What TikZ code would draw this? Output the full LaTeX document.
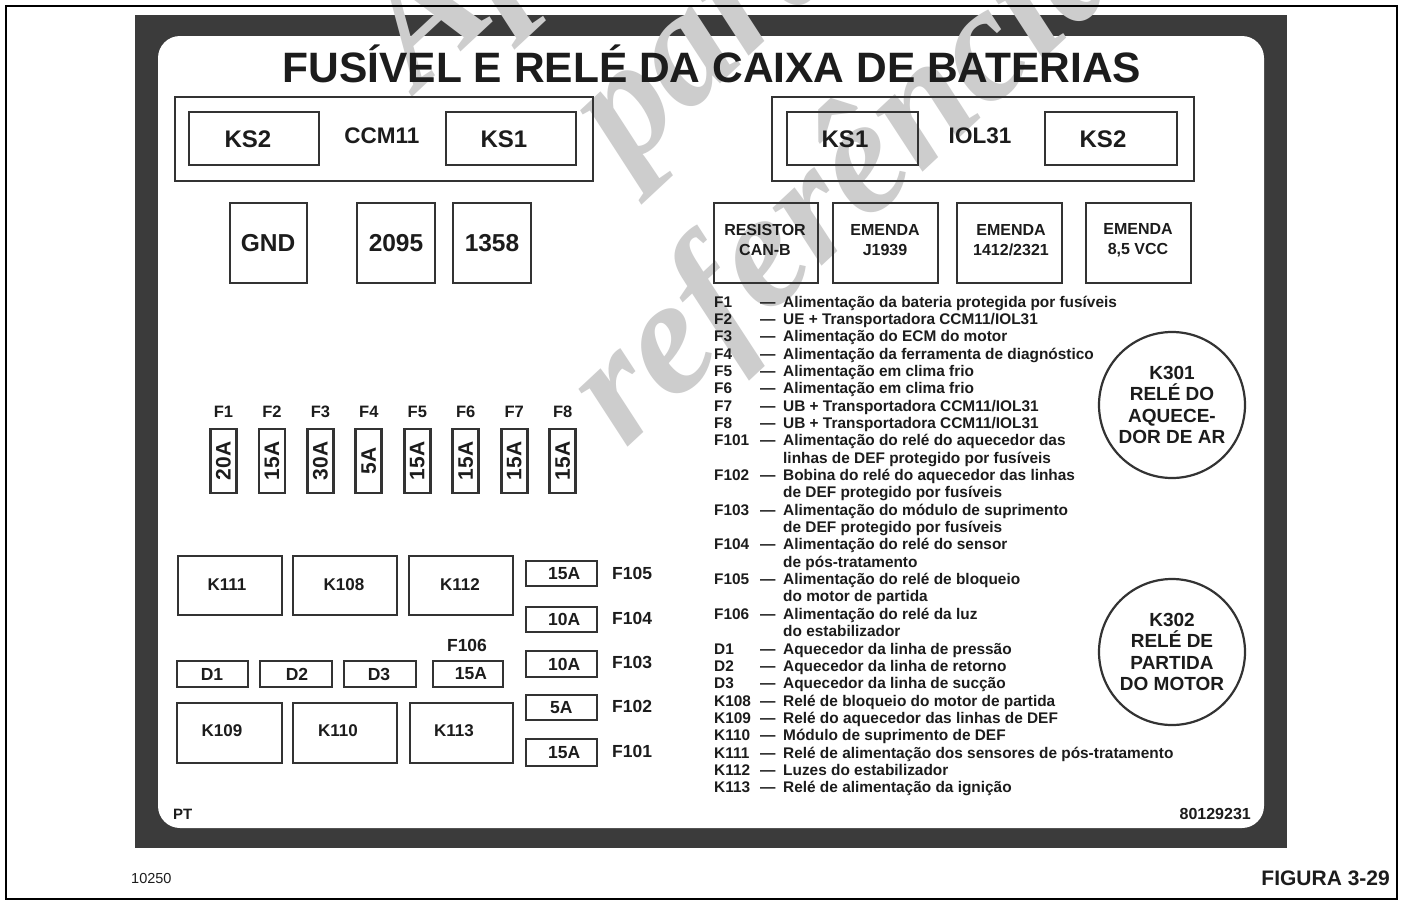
\documentclass[tikz,border=0pt]{standalone}
\usepackage{fontspec}
\setmainfont{Liberation Sans}
\newfontfamily\wmfont{Liberation Serif}
\definecolor{band}{HTML}{3B3B3B}
\definecolor{boxc}{HTML}{333333}
\definecolor{txt}{HTML}{1C1C1C}
\definecolor{wmc}{HTML}{CDCDCD}
\newcommand\plate[6][]{\node[bx,#1,minimum width={(#5-#3)*1pt},minimum height={(#6-#4)*1pt}] (#2) at ({(#3+#5)/2},{(#4+#6)/2}) {};}
\newcommand\legitem[3]{%
  \node[leg,anchor=base west] (lk#1) at (714,{307+17.35*#1}) {#2};
  \node[leg,anchor=base west] (ld#1) at (760,{307+17.35*#1}) {—};
  \node[leg,anchor=base west] (lt#1) at (783,{307+17.35*#1}) {#3};}
\newcommand\legcont[2]{%
  \node[leg,anchor=base west] (lt#1) at (783,{307+17.35*#1}) {#2};}
\begin{document}
\begin{tikzpicture}[x=1pt,y=-1pt,
  bx/.style={draw=boxc,line width=2.8pt,inner sep=0pt,rectangle},
  sz/.style={inner sep=0pt,text=txt,font={\fontsize{#1}{#1}\selectfont\bfseries}},
  leg/.style={inner sep=0pt,text=txt,font={\fontsize{15.4}{17}\selectfont\bfseries}},
  wmtxt/.style={inner sep=0pt,text=wmc,rotate=43,anchor=base,font={\wmfont\fontsize{165}{165}\selectfont\bfseries\itshape}},
  relc/.style={circle,draw=boxc,line width=2.2pt,minimum size=146pt,inner sep=0pt,align=center,text=txt,font={\fontsize{19}{21.5}\selectfont\bfseries}},
  two/.style={inner sep=0pt,text=txt,align=center,font={\fontsize{16}{20}\selectfont\bfseries}}]
\path[use as bounding box] (0,0) rectangle (1403,905);
\begin{scope}
\clip (0,0) rectangle (1403,905);
\fill[band] (135,15) rectangle (1287,848);
\fill[white,rounded corners=22pt] (158,36) rectangle (1264,828);
\node[wmtxt] (wm1) at (603,-80) {Apenas};
\node[wmtxt] (wm2) at (740,65) {para};
\node[wmtxt] (wm3) at (880,212) {referência};
\end{scope}
\draw[line width=2pt,black] (6,6) rectangle (1397,899);
% title
\node[sz=42.5,anchor=base] (title) at (712,82) {FUSÍVEL E RELÉ DA CAIXA DE BATERIAS};
% CCM11
\plate{ccm}{175}{97}{593}{181}
\plate{ccmks2}{189}{112}{319}{165}
\plate{ccmks1}{446}{112}{576}{165}
\node[sz=24] (tccmks2) at (248,139) {KS2};
\node[sz=22.5] (tccm) at (382,136) {CCM11};
\node[sz=24] (tccmks1) at (504,139) {KS1};
% IOL31
\plate{iol}{772}{97}{1194}{181}
\plate{iolks1}{787}{112}{918}{165}
\plate{iolks2}{1045}{112}{1177}{165}
\node[sz=24] (tiolks1) at (845,139) {KS1};
\node[sz=22.5] (tiol) at (980,136) {IOL31};
\node[sz=24] (tiolks2) at (1103,139) {KS2};
% GND row
\plate{gnd}{230}{203}{307}{283}
\plate{p2095}{357}{203}{435}{283}
\plate{p1358}{453}{203}{531}{283}
\node[sz=24.5] (tgnd) at (268,243) {GND};
\node[sz=24.5] (t2095) at (396,243) {2095};
\node[sz=24.5] (t1358) at (492,243) {1358};
% EMENDA row
\plate{res}{714}{203}{818}{283}
\plate{j1939}{833}{203}{938}{283}
\plate{e1412}{957}{203}{1062}{283}
\plate{e85}{1086}{203}{1191}{283}
\node[two] (tres) at (765,240) {RESISTOR\\CAN-B};
\node[two] (tj1939) at (885,240) {EMENDA\\J1939};
\node[two] (te1412) at (1011,240) {EMENDA\\1412/2321};
\node[two] (te85) at (1138,240) {EMENDA\\8,5 VCC};
% F1-F8
\foreach \v [count=\i] in {20A,15A,30A,5A,15A,15A,15A,15A}{
  \pgfmathsetmacro\fx{223.5+48.45*(\i-1)}
  \node[sz=16.5] (fl\i) at (\fx,412) {F\i};
  \node[bx,sz=21,rotate=90,minimum width=64pt,minimum height=26pt] (fv\i) at (\fx,461) {\v};
}
% relays row 1
\plate{k111}{178}{556}{282}{615}
\plate{k108}{293}{556}{397}{615}
\plate{k112}{409}{556}{513}{615}
\node[sz=17] (tk111) at (227,585) {K111};
\node[sz=17] (tk108) at (344,585) {K108};
\node[sz=17] (tk112) at (460,585) {K112};
% small fuses right
\plate[line width=2.4pt]{f105}{526}{561}{597}{586}
\plate[line width=2.4pt]{f104}{526}{607}{597}{632}
\plate[line width=2.4pt]{f103}{526}{651}{597}{677}
\plate[line width=2.4pt]{f102}{526}{695}{597}{720}
\plate[line width=2.4pt]{f101}{526}{739}{597}{766}
\node[sz=17.5,anchor=west] (tf105) at (548,573.5) {15A};
\node[sz=17.5,anchor=west] (tf104) at (548,619.5) {10A};
\node[sz=17.5,anchor=west] (tf103) at (548,664) {10A};
\node[sz=17.5,anchor=west] (tf102) at (550,707.5) {5A};
\node[sz=17.5,anchor=west] (tf101) at (548,752.5) {15A};
\node[sz=17.5,anchor=west] (lf105) at (612,573.5) {F105};
\node[sz=17.5,anchor=west] (lf104) at (612,618.5) {F104};
\node[sz=17.5,anchor=west] (lf103) at (612,662.5) {F103};
\node[sz=17.5,anchor=west] (lf102) at (612,706) {F102};
\node[sz=17.5,anchor=west] (lf101) at (612,751) {F101};
% D row
\plate[line width=2.4pt]{d1}{177}{661}{248}{687}
\plate[line width=2.4pt]{d2}{260}{661}{332}{687}
\plate[line width=2.4pt]{d3}{344}{661}{416}{687}
\plate[line width=2.4pt]{f106}{433}{661}{503}{687}
\node[sz=17.5] (td1) at (212,674) {D1};
\node[sz=17.5] (td2) at (297,674) {D2};
\node[sz=17.5] (td3) at (379,674) {D3};
\node[sz=17.5] (tf106) at (471,674) {15A};
\node[sz=17.5] (lf106) at (467,645) {F106};
% relays row 2
\plate{k109}{177}{703}{282}{763}
\plate{k110}{293}{703}{397}{763}
\plate{k113}{410}{703}{513}{763}
\node[sz=17] (tk109) at (222,731) {K109};
\node[sz=17] (tk110) at (338,731) {K110};
\node[sz=17] (tk113) at (454,731) {K113};
% circles
\node[relc] (k301) at (1172,405) {K301\\RELÉ DO\\AQUECE-\\DOR DE AR};
\node[relc] (k302) at (1172,652) {K302\\RELÉ DE\\PARTIDA\\DO MOTOR};
% legend
\legitem{0}{F1}{Alimentação da bateria protegida por fusíveis}
\legitem{1}{F2}{UE + Transportadora CCM11/IOL31}
\legitem{2}{F3}{Alimentação do ECM do motor}
\legitem{3}{F4}{Alimentação da ferramenta de diagnóstico}
\legitem{4}{F5}{Alimentação em clima frio}
\legitem{5}{F6}{Alimentação em clima frio}
\legitem{6}{F7}{UB + Transportadora CCM11/IOL31}
\legitem{7}{F8}{UB + Transportadora CCM11/IOL31}
\legitem{8}{F101}{Alimentação do relé do aquecedor das}
\legcont{9}{linhas de DEF protegido por fusíveis}
\legitem{10}{F102}{Bobina do relé do aquecedor das linhas}
\legcont{11}{de DEF protegido por fusíveis}
\legitem{12}{F103}{Alimentação do módulo de suprimento}
\legcont{13}{de DEF protegido por fusíveis}
\legitem{14}{F104}{Alimentação do relé do sensor}
\legcont{15}{de pós-tratamento}
\legitem{16}{F105}{Alimentação do relé de bloqueio}
\legcont{17}{do motor de partida}
\legitem{18}{F106}{Alimentação do relé da luz}
\legcont{19}{do estabilizador}
\legitem{20}{D1}{Aquecedor da linha de pressão}
\legitem{21}{D2}{Aquecedor da linha de retorno}
\legitem{22}{D3}{Aquecedor da linha de sucção}
\legitem{23}{K108}{Relé de bloqueio do motor de partida}
\legitem{24}{K109}{Relé do aquecedor das linhas de DEF}
\legitem{25}{K110}{Módulo de suprimento de DEF}
\legitem{26}{K111}{Relé de alimentação dos sensores de pós-tratamento}
\legitem{27}{K112}{Luzes do estabilizador}
\legitem{28}{K113}{Relé de alimentação da ignição}
% bottom texts
\node[sz=15,anchor=base west] (pt) at (173,819) {PT};
\node[sz=16,anchor=base east] (code) at (1251,819) {80129231};
\node[inner sep=0pt,text=txt,font={\fontsize{14.5}{14.5}\selectfont},anchor=base west] (num) at (131,883) {10250};
\node[sz=21,anchor=base east] (fig) at (1390,885) {FIGURA 3-29};
\end{tikzpicture}
\end{document}
